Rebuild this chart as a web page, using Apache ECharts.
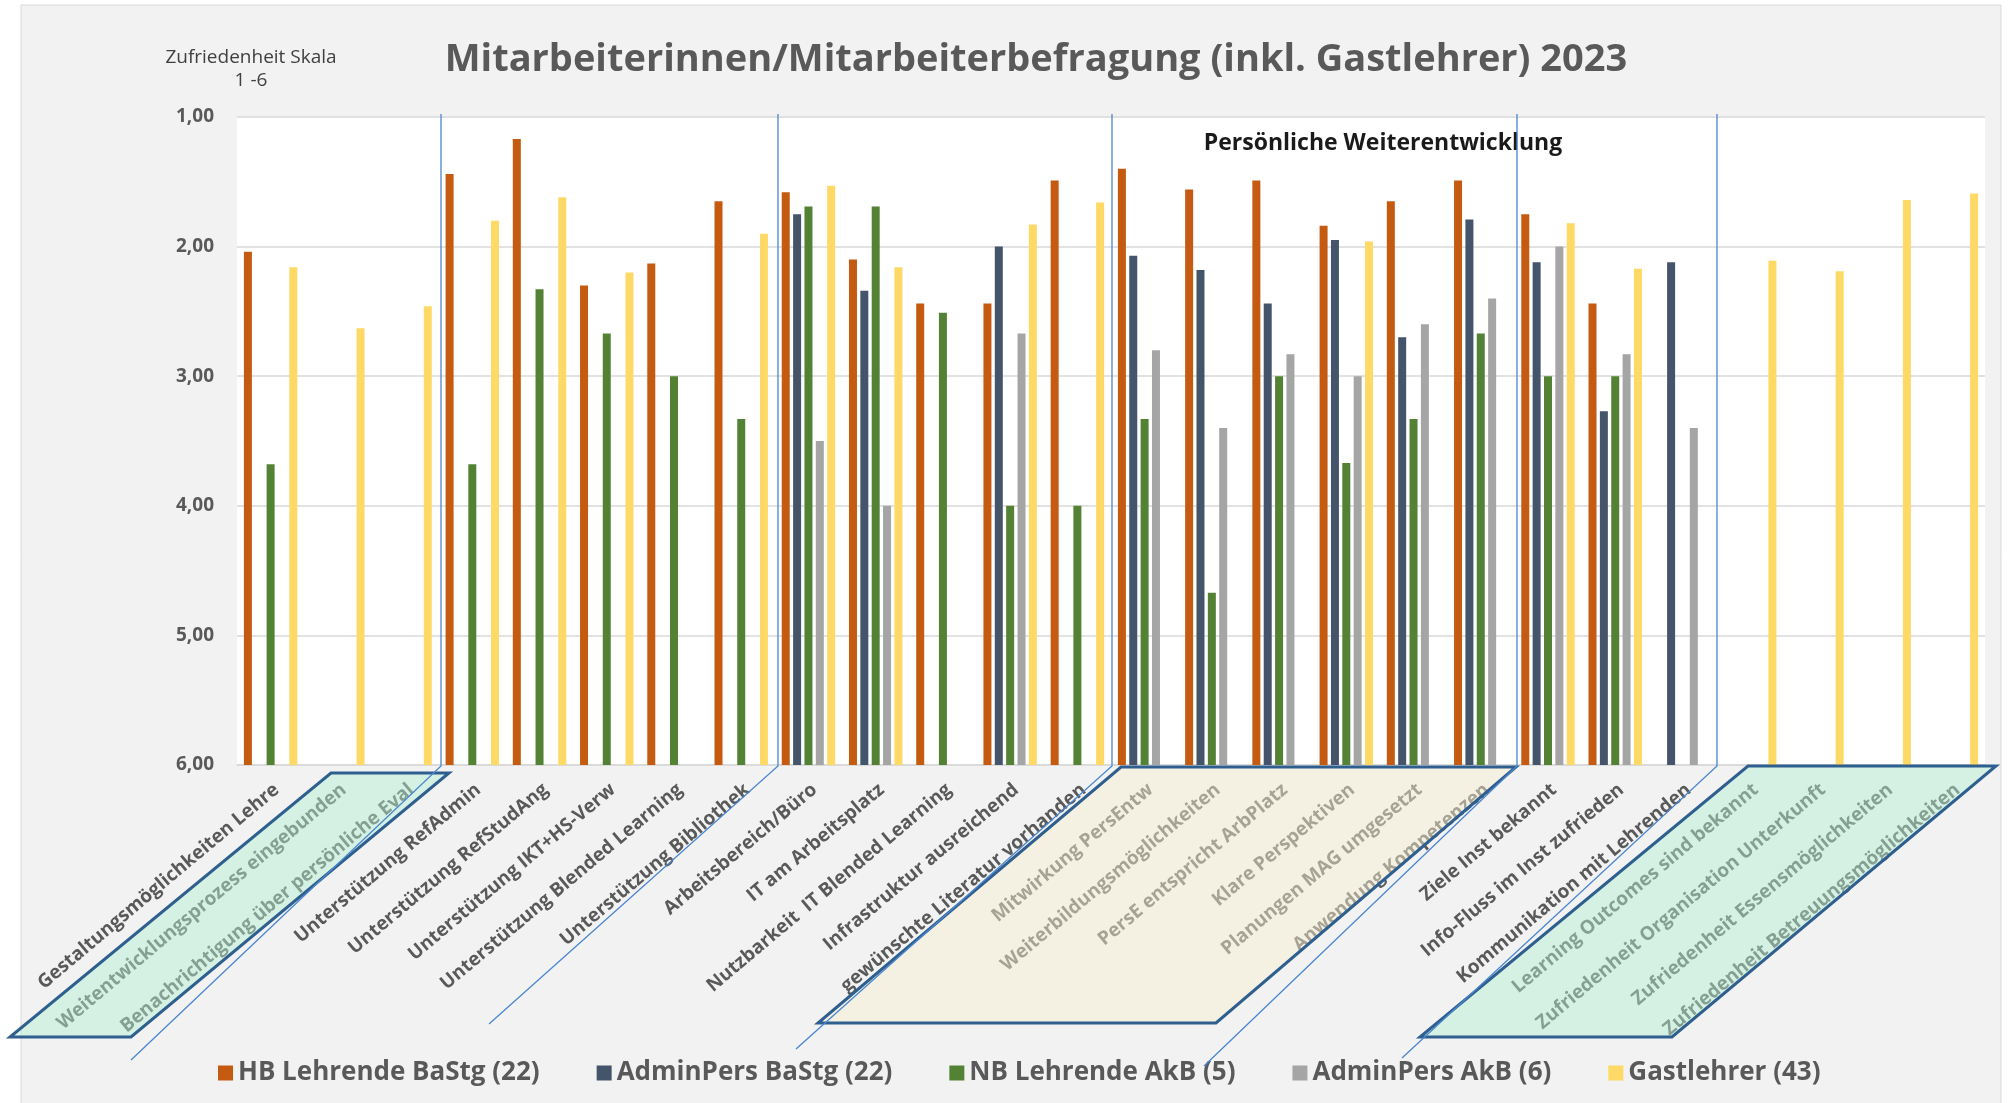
<!DOCTYPE html>
<html><head><meta charset="utf-8">
<script src="https://cdn.jsdelivr.net/npm/echarts@6/dist/echarts.min.js"></script>
<style>html,body{margin:0;padding:0;background:#fff}#c{width:2013px;height:1103px}</style>
</head><body><div id="c"></div>
<script>
const categories = [
  'Gestaltungsmöglichkeiten Lehre',
  'Weitentwicklungsprozess eingebunden',
  'Benachrichtigung über persönliche Eval',
  'Unterstützung RefAdmin',
  'Unterstützung RefStudAng',
  'Unterstützung IKT+HS-Verw',
  'Unterstützung Blended Learning',
  'Unterstützung Bibliothek',
  'Arbeitsbereich/Büro',
  'IT am Arbeitsplatz',
  'Nutzbarkeit  IT Blended Learning',
  'Infrastruktur ausreichend',
  'gewünschte Literatur vorhanden',
  'Mitwirkung PersEntw',
  'Weiterbildungsmöglichkeiten',
  'PersE entspricht ArbPlatz',
  'Klare Perspektiven',
  'Planungen MAG umgesetzt',
  'Anwendung Kompetenzen',
  'Ziele Inst bekannt',
  'Info-Fluss im Inst zufrieden',
  'Kommunikation mit Lehrenden',
  'Learning Outcomes sind bekannt',
  'Zufriedenheit Organisation Unterkunft',
  'Zufriedenheit Essensmöglichkeiten',
  'Zufriedenheit Betreuungsmöglichkeiten'
];
const seriesNames = ['HB Lehrende BaStg (22)', 'AdminPers BaStg (22)', 'NB Lehrende AkB (5)', 'AdminPers AkB (6)', 'Gastlehrer (43)'];
const hbLehrendeBaStg = [2.04, null, null, 1.44, 1.17, 2.30, 2.13, 1.65, 1.58, 2.10, 2.44, 2.44, 1.49, 1.40, 1.56, 1.49, 1.84, 1.65, 1.49, 1.75, 2.44, null, null, null, null, null];
const adminPersBaStg  = [null, null, null, null, null, null, null, null, 1.75, 2.34, null, 2.00, null, 2.07, 2.18, 2.44, 1.95, 2.70, 1.79, 2.12, 3.27, 2.12, null, null, null, null];
const nbLehrendeAkB   = [3.68, null, null, 3.68, 2.33, 2.67, 3.00, 3.33, 1.69, 1.69, 2.51, 4.00, 4.00, 3.33, 4.67, 3.00, 3.67, 3.33, 2.67, 3.00, 3.00, null, null, null, null, null];
const adminPersAkB    = [null, null, null, null, null, null, null, null, 3.50, 4.00, null, 2.67, null, 2.80, 3.40, 2.83, 3.00, 2.60, 2.40, 2.00, 2.83, 3.40, null, null, null, null];
const gastlehrer      = [2.16, 2.63, 2.46, 1.80, 1.62, 2.20, null, 1.90, 1.53, 2.16, null, 1.83, 1.66, null, null, null, 1.96, null, null, 1.82, 2.17, null, 2.11, 2.19, 1.64, 1.59];
const yTicks = [1, 2, 3, 4, 5, 6];

const colors = ['#C55A11', '#44546A', '#548235', '#A5A5A5', '#FFD966'];
const allData = [hbLehrendeBaStg, adminPersBaStg, nbLehrendeAkB, adminPersAkB, gastlehrer];
const FONT = 'Open Sans';

const chart = echarts.init(document.getElementById('c'), null, {renderer: 'canvas'});

const blue = '#4A86D0';
const boxStroke = '#2F5F8F';
function sepLine(x, x2, y2) {
  return {type: 'polyline', z: 120, silent: true,
    shape: {points: [[x, 114], [x, 766], [x2, y2]]},
    style: {stroke: blue, lineWidth: 1.3, fill: null}};
}
function box(pts, fill) {
  return {type: 'polygon', z: 100, silent: true,
    shape: {points: pts},
    style: {fill: fill, stroke: boxStroke, lineWidth: 3}};
}

const option = {
  backgroundColor: '#ffffff',
  animation: false,
  color: colors,
  grid: {left: 237, top: 117, width: 1748, height: 648, show: true, backgroundColor: '#ffffff', borderWidth: 0, containLabel: false},
  xAxis: {
    type: 'category', data: categories,
    axisLine: {show: true, onZero: false, lineStyle: {color: '#D9D9D9', width: 1.5}},
    axisTick: {show: false},
    axisLabel: {interval: 0, rotate: 40, margin: 15, verticalAlign: 'top', align: 'right',
      fontFamily: FONT, fontWeight: 'bold', fontSize: 19, color: '#595959'}
  },
  yAxis: {
    type: 'value', inverse: true, min: 1, max: 6, interval: 1, startValue: 6,
    axisLine: {show: false}, axisTick: {show: false},
    splitLine: {lineStyle: {color: '#D9D9D9', width: 1.5}},
    axisLabel: {margin: 23, fontFamily: FONT, fontWeight: 'bold', fontSize: 19, color: '#595959',
      formatter: v => v.toFixed(2).replace('.', ',')}
  },
  legend: {
    left: 213, top: 1055, itemWidth: 15, itemHeight: 15, itemGap: 57, icon: 'rect',
    data: seriesNames,
    textStyle: {fontFamily: FONT, fontWeight: 'bold', fontSize: 26, color: '#595959'}
  },
  series: seriesNames.map((n, i) => ({
    name: n, type: 'bar', data: allData[i], barWidth: 8, barGap: '42%',
    itemStyle: {color: colors[i]}
  })),
  graphic: [
    {type: 'rect', z: -10, silent: true, shape: {x: 21, y: 5, width: 1980, height: 1100},
      style: {fill: '#F2F2F2', stroke: '#D9D9D9', lineWidth: 1}},
    {type: 'text', z: 50, x: 1036, y: 60, style: {text: 'Mitarbeiterinnen/Mitarbeiterbefragung (inkl. Gastlehrer) 2023',
      fontFamily: FONT, fontWeight: 'bold', fontSize: 38, fill: '#595959', textAlign: 'center', textVerticalAlign: 'middle'}},
    {type: 'text', z: 50, x: 251, y: 58, style: {text: 'Zufriedenheit Skala', fontFamily: FONT, fontSize: 19, fill: '#404040', textAlign: 'center', textVerticalAlign: 'middle'}},
    {type: 'text', z: 50, x: 251, y: 81, style: {text: '1 -6', fontFamily: FONT, fontSize: 19, fill: '#404040', textAlign: 'center', textVerticalAlign: 'middle'}},
    {type: 'text', z: 50, x: 1383, y: 143, style: {text: 'Persönliche Weiterentwicklung', fontFamily: FONT, fontWeight: 'bold', fontSize: 23, fill: '#1a1a1a', textAlign: 'center', textVerticalAlign: 'middle'}},
    box([[331, 773], [449, 773], [131, 1037], [10, 1037]], 'rgba(180,240,210,0.47)'),
    box([[1121, 767], [1516, 767], [1216, 1023], [818, 1023]], 'rgba(246,240,213,0.49)'),
    box([[1748, 766], [1996, 766], [1672, 1037], [1420, 1037]], 'rgba(180,240,210,0.47)'),
    sepLine(441, 131, 1060),
    sepLine(778, 489, 1024),
    sepLine(1112, 796, 1049),
    sepLine(1517, 1204, 1066),
    sepLine(1717, 1402, 1058)
  ]
};
chart.setOption(option);
</script></body></html>
